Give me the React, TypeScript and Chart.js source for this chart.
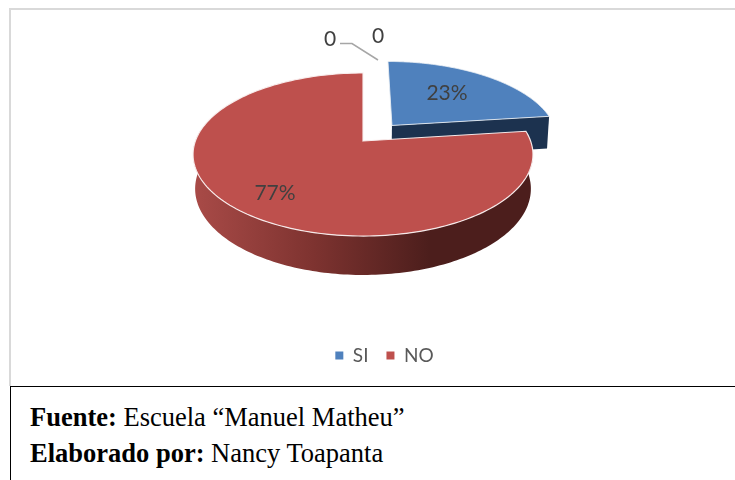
import React, { useEffect, useRef } from "react";
import { Chart, registerables } from "chart.js";

Chart.register(...registerables);

const categories = ["SI", "NO", "", ""];
const values = [23, 77, 0, 0];
const explode = [0.27, 0, 0, 0];
const faceColors = ["#4F81BD", "#BE504D", "#9BBB59", "#8064A2"];
const labelSpots: [number, number][] = [[447, 93], [275, 193], [378, 36], [330, 39]];

const CX = 363, CY = 141, RX = 167.6, RY = 79.3, K = 0.1656, H = 34.1, M = 0.012;
const FONT = "Lato";

type P = [number, number];
const project = (u: number, v: number, low: boolean): P => {
  const w = 1 - K * v + (low ? M : 0);
  return [CX + (RX * u) / w, CY + (RY * v + (low ? H : 0)) / w];
};

const pie3d = {
  id: "pie3d",
  beforeDatasetDraw(chart: any) {
    const ctx: CanvasRenderingContext2D = chart.ctx;
    const arcs = chart.getDatasetMeta(0).data as any[];
    const info = arcs.map((arc, i) => {
      const mid = (arc.startAngle + arc.endAngle) / 2;
      const d = explode[i];
      return { a0: arc.startAngle, a1: arc.endAngle, ou: d * Math.cos(mid), ov: d * Math.sin(mid), i };
    });
    const rim = (s: any, low: boolean): P[] => {
      const pts: P[] = [];
      const n = 180;
      for (let k = 0; k <= n; k++) {
        const a = s.a0 + ((s.a1 - s.a0) * k) / n;
        pts.push(project(s.ou + Math.cos(a), s.ov + Math.sin(a), low));
      }
      return pts;
    };
    const trace = (pts: P[]) => {
      ctx.beginPath();
      pts.forEach((p, k) => (k ? ctx.lineTo(p[0], p[1]) : ctx.moveTo(p[0], p[1])));
      ctx.closePath();
    };
    const visible = info.filter((s) => s.a1 - s.a0 > 1e-6);
    ctx.save();
    visible.forEach((s) => {
      if (explode[s.i] > 0) {
        const e = Math.cos(s.a1), f = Math.sin(s.a1);
        ctx.fillStyle = "#1C324F";
        trace([
          project(s.ou, s.ov, false),
          project(s.ou + e, s.ov + f, false),
          project(s.ou + e, s.ov + f, true),
          project(s.ou, s.ov, true),
        ]);
        ctx.fill();
        ctx.fillStyle = faceColors[s.i];
        trace([project(s.ou, s.ov, false), ...rim(s, false)]);
        ctx.fill();
        ctx.strokeStyle = "rgba(235,240,245,0.85)";
        ctx.lineWidth = 1;
        ctx.stroke();
      }
    });
    visible.forEach((s) => {
      if (explode[s.i] > 0) return;
      const n = 240;
      const top: P[] = [], low: P[] = [];
      for (let k = 0; k <= n; k++) {
        const a = s.a0 + ((s.a1 - s.a0) * k) / n;
        if (Math.sin(a) < -0.15) continue;
        top.push(project(Math.cos(a), Math.sin(a), false));
        low.push(project(Math.cos(a), Math.sin(a), true));
      }
      const g = ctx.createLinearGradient(196, 0, 530, 0);
      g.addColorStop(0, "#A84A47");
      g.addColorStop(0.35, "#7E3330");
      g.addColorStop(0.7, "#4C1E1C");
      g.addColorStop(1, "#4C1E1C");
      ctx.fillStyle = g;
      trace([...top, ...low.reverse()]);
      ctx.fill();
      ctx.fillStyle = faceColors[s.i];
      trace([project(0, 0, false), ...rim(s, false)]);
      ctx.fill();
      ctx.strokeStyle = "rgba(250,240,240,0.95)";
      ctx.lineWidth = 1.2;
      ctx.stroke();
    });
    ctx.strokeStyle = "#A6A6A6";
    ctx.lineWidth = 1.5;
    ctx.beginPath();
    ctx.moveTo(340, 43.5);
    ctx.lineTo(352, 43.5);
    ctx.lineTo(378, 60);
    ctx.stroke();
    const total = values.reduce((p, c) => p + c, 0);
    ctx.fillStyle = "#404040";
    ctx.font = `21px ${FONT}`;
    ctx.textAlign = "center";
    ctx.textBaseline = "middle";
    values.forEach((v, i) => {
      const text = v === 0 ? "0" : `${Math.round((v / total) * 100)}%`;
      ctx.fillText(text, labelSpots[i][0], labelSpots[i][1]);
    });
    ctx.restore();
    return false;
  },
};

export default function App() {
  const ref = useRef<HTMLCanvasElement>(null);
  useEffect(() => {
    const chart = new Chart(ref.current!, {
      type: "pie",
      data: {
        labels: categories,
        datasets: [{ data: values, backgroundColor: faceColors, borderWidth: 0 }],
      },
      options: {
        responsive: false,
        animation: false,
        events: [],
        layout: { padding: { left: 34, bottom: 10 } },
        plugins: {
          tooltip: { enabled: false },
          legend: {
            position: "bottom",
            labels: {
              filter: (item: any) => item.text !== "",
              usePointStyle: true,
              pointStyle: "rect",
              boxWidth: 8,
              boxHeight: 8,
              padding: 18,
              color: "#595959",
              font: { family: FONT, size: 19 },
            },
          },
        },
      },
      plugins: [pie3d],
    } as any);
    return () => chart.destroy();
  }, []);
  const line: React.CSSProperties = {
    position: "absolute",
    left: 30,
    font: "26.5px 'Liberation Serif', serif",
    color: "#000",
    whiteSpace: "nowrap",
    lineHeight: "28px",
  };
  return (
    <div style={{ position: "fixed", left: 0, top: 0, width: 735, height: 480, overflow: "hidden", background: "#fff" }}>
      <div style={{ position: "absolute", left: 9, top: 8, width: 726, height: 2, background: "#D9D9D9" }} />
      <div style={{ position: "absolute", left: 9, top: 8, width: 2, height: 378, background: "#D9D9D9" }} />
      <canvas ref={ref} width={735} height={385} style={{ position: "absolute", left: 0, top: 0, display: "block" }} />
      <div style={{ position: "absolute", left: 10, top: 386, width: 725, height: 1, background: "#000" }} />
      <div style={{ position: "absolute", left: 10, top: 386, width: 1, height: 94, background: "#000" }} />
      <div style={{ ...line, top: 403 }}><b>Fuente:</b> Escuela “Manuel Matheu”</div>
      <div style={{ ...line, top: 439 }}><b>Elaborado por:</b> Nancy Toapanta</div>
    </div>
  );
}
